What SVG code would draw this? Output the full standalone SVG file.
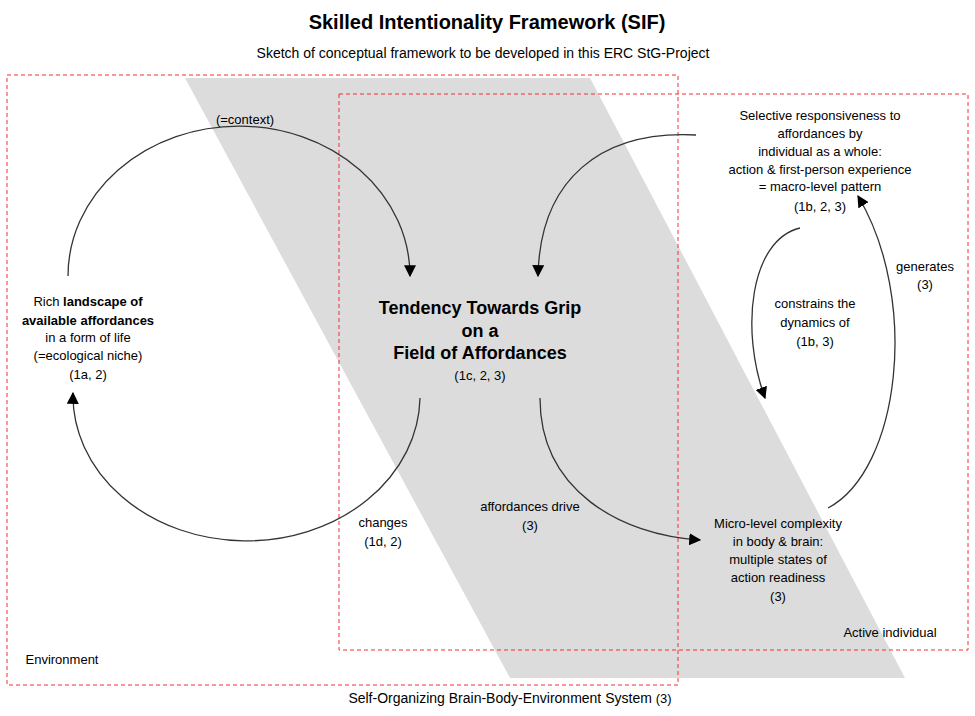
<svg xmlns="http://www.w3.org/2000/svg" width="975" height="716" viewBox="0 0 975 716">
<style>
text{font-family:"Liberation Sans",Arial,sans-serif;font-size:13px;fill:#000;text-anchor:middle}
.frame{fill:none;stroke:#f03030;stroke-width:1;stroke-dasharray:4,3}
.c{fill:none;stroke:#333;stroke-width:1.3;marker-end:url(#ah)}
</style>
<defs><marker id="ah" viewBox="0 0 10 10" refX="9" refY="5" markerWidth="12" markerHeight="12" markerUnits="userSpaceOnUse" orient="auto"><path d="M0,0L10,5L0,10z" fill="#000"/></marker></defs>
<rect width="975" height="716" fill="#fff"/>
<polygon points="185,78 590,78 905,678 510,678" fill="#dcdcdc"/>
<rect class="frame" x="7" y="75" width="671" height="610"/>
<rect class="frame" x="339" y="94" width="629" height="556"/>
<text x="487" y="29" style="font-size:20px;font-weight:bold">Skilled Intentionality Framework (SIF)</text>
<text x="483" y="58" style="font-size:14px">Sketch of conceptual framework to be developed in this ERC StG-Project</text>
<g id="connectors">
<path class="c" d="M68,276 A171 150 0 0 1 410,276"/>
<path class="c" d="M420,398 A173 145 0 0 1 73,393"/>
<path class="c" d="M696,135 C600,130 540,180 538,276"/>
<path class="c" d="M800,228 C750,240 740,330 765,398"/>
<path class="c" d="M828,508 C900,470 920,300 858,196"/>
<path class="c" d="M540,398 C540,490 620,535 700,540"/>
</g>
<g id="context"><text x="245" y="124">(=context)</text></g>
<g id="landscape"><text x="88" y="306">Rich <tspan font-weight="bold">landscape of</tspan></text><text x="88" y="325" font-weight="bold">available affordances</text><text x="88" y="342">in a form of life</text><text x="88" y="360">(=ecological niche)</text><text x="88" y="379">(1a, 2)</text></g>
<g id="grip"><text x="480" y="314" style="font-size:18px;font-weight:bold">Tendency Towards Grip</text><text x="480" y="337" style="font-size:18px;font-weight:bold">on a</text><text x="480" y="359" style="font-size:18px;font-weight:bold">Field of Affordances</text><text x="480" y="380">(1c, 2, 3)</text></g>
<g id="selective"><text x="820" y="120">Selective responsiveness to</text><text x="820" y="138">affordances by</text><text x="820" y="156">individual as a whole:</text><text x="820" y="174">action &amp; first-person experience</text><text x="820" y="191">= macro-level pattern</text><text x="820" y="211">(1b, 2, 3)</text></g>
<g id="constrains"><text x="815" y="308">constrains the</text><text x="815" y="327">dynamics of</text><text x="815" y="346">(1b, 3)</text></g>
<g id="generates"><text x="925" y="271">generates</text><text x="925" y="289">(3)</text></g>
<g id="micro"><text x="778" y="528">Micro-level complexity</text><text x="778" y="546">in body &amp; brain:</text><text x="778" y="564">multiple states of</text><text x="778" y="582">action readiness</text><text x="778" y="601">(3)</text></g>
<g id="drive"><text x="530" y="511">affordances drive</text><text x="530" y="530">(3)</text></g>
<g id="changes"><text x="383" y="527">changes</text><text x="383" y="546">(1d, 2)</text></g>
<text x="890" y="637">Active individual</text>
<text x="62" y="664">Environment</text>
<text x="510" y="703" style="font-size:14px">Self-Organizing Brain-Body-Environment System <tspan font-size="13">(3)</tspan></text>
</svg>
